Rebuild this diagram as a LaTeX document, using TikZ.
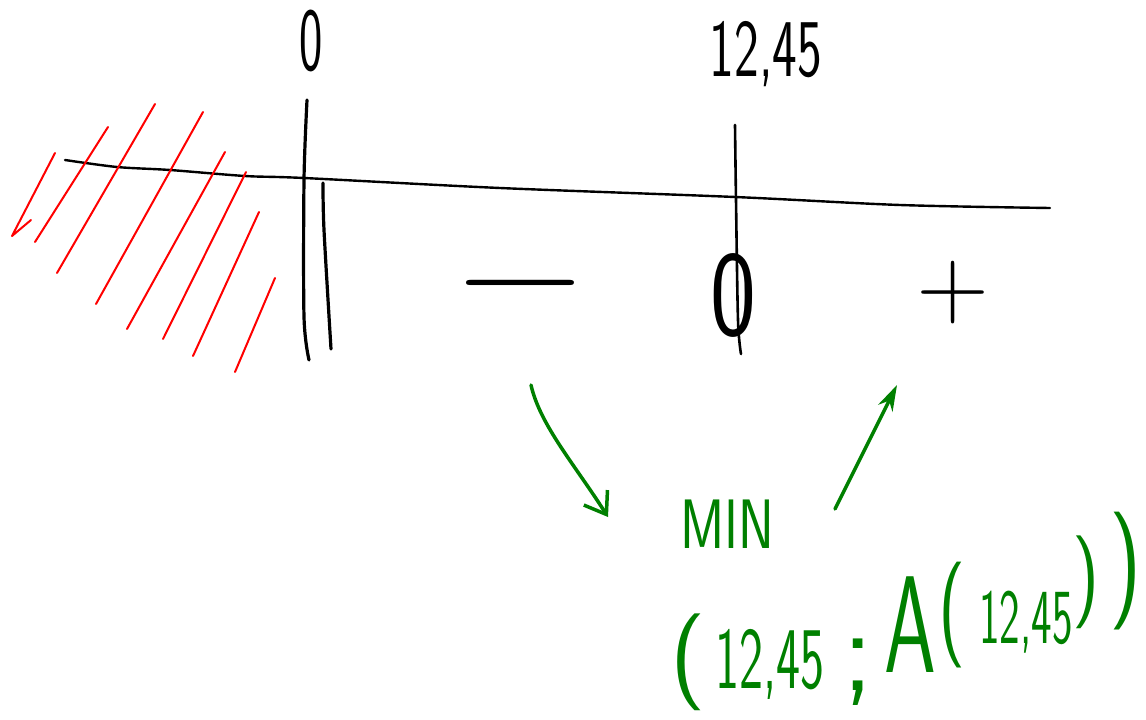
\documentclass[tikz,border=0pt]{standalone}
\usepackage{fontspec}
\usetikzlibrary{arrows.meta}
\newfontfamily\handfont{Latin Modern Sans}
\colorlet{pen}{green!50!black}
\newcommand{\fsz}[1]{\handfont\fontsize{#1}{#1}\selectfont}
\begin{document}
\begin{tikzpicture}[x=1pt,y=-1pt,
  axis/.style={black, line width=2.4pt, line cap=round, line join=round},
  hatch/.style={red, line width=2pt, line cap=round, line join=round},
  ink/.style={pen, line width=3.5pt, line cap=round, line join=round},
  lbl/.style={inner sep=0pt, text=black},
  glbl/.style={inner sep=0pt, text=pen}]
\fill[white] (0,0) rectangle (1146,720);
\useasboundingbox (0,0) rectangle (1146,720);

% number line
\draw[axis, line width=2.4pt] plot[smooth] coordinates
  {(65,160) (117,167) (170,170) (245,176) (304,178) (500,188) (735,197) (900,205) (1050,208)};

% double bar at 0 (domain boundary)
\draw[axis, line width=3.2pt] plot[smooth] coordinates {(307,100) (304,180) (304,317) (309,360)};
\draw[axis, line width=3.2pt] plot[smooth] coordinates {(323,183) (324,230) (331,349)};

% mark at 12,45
\draw[axis, line width=2.6pt] plot[smooth] coordinates {(735,125) (736,200) (738,320) (741,354)};

% excluded region
\draw[hatch] (55,153) -- (12,236) -- (31,220);
\draw[hatch] (108,127) -- (35,242);
\draw[hatch] (155,104) -- (57,273);
\draw[hatch] (203,112) -- (96,304);
\draw[hatch] (225,152) -- (127,329);
\draw[hatch] (246,172) -- (163,339);
\draw[hatch] (259,212) -- (193,356);
\draw[hatch] (275,278) -- (235,372);

% labels above the line
\node[lbl, xscale=0.55, font=\fsz{90}] (zero) at (311,41) {0};
\node[lbl, xscale=0.64, font=\fsz{82}, anchor=base] (root) at (766,76) {12,45};

% sign chart
\node[lbl, xscale=1.15, font=\fsz{150}] (minus) at (521,300) {−};
\node[lbl, xscale=0.8, font=\fsz{122}] (zeromark) at (733,295) {0};
\node[lbl, font=\fsz{100}] (plus) at (953,293) {+};

% minimum
\node[glbl, xscale=0.77, font=\fsz{70}] (min) at (727,524) {MIN};

\node[glbl, font=\fsz{97}, anchor=base] (lp) at (688,686) {(};
\node[glbl, xscale=0.58, font=\fsz{88}, anchor=base] (xval) at (770,688) {12,45};
\node[glbl, font=\fsz{120}, anchor=base] (semi) at (858,690) {;};
\node[glbl, xscale=0.6, font=\fsz{138}, anchor=base] (fa) at (910,672) {A};
\node[glbl, xscale=0.7, font=\fsz{106}, anchor=base] (ilp) at (952,641) {(};
\node[glbl, xscale=0.56, font=\fsz{78}, anchor=base] (arg) at (1026,643) {12,45};
\node[glbl, xscale=0.8, font=\fsz{93}, anchor=base] (irp) at (1086,605) {)};
\node[glbl, xscale=0.75, font=\fsz{118}, anchor=base] (rp) at (1126,600) {)};

% arrows: decreasing into the minimum, then increasing
\coordinate (decs) at (531,385);
\coordinate (dece) at (608,517);
\coordinate (incs) at (835,509);
\coordinate (ince) at (897,385);
\draw[ink, -{Straight Barb[length=20pt,width=28pt,line width=3.5pt]}]
  (decs) .. controls (540,425) and (575,465) .. (dece);
\draw[ink, -{Stealth[open,length=26pt,width=16pt,line width=3.5pt]}]
  (incs) -- (ince);
\end{tikzpicture}
\end{document}
